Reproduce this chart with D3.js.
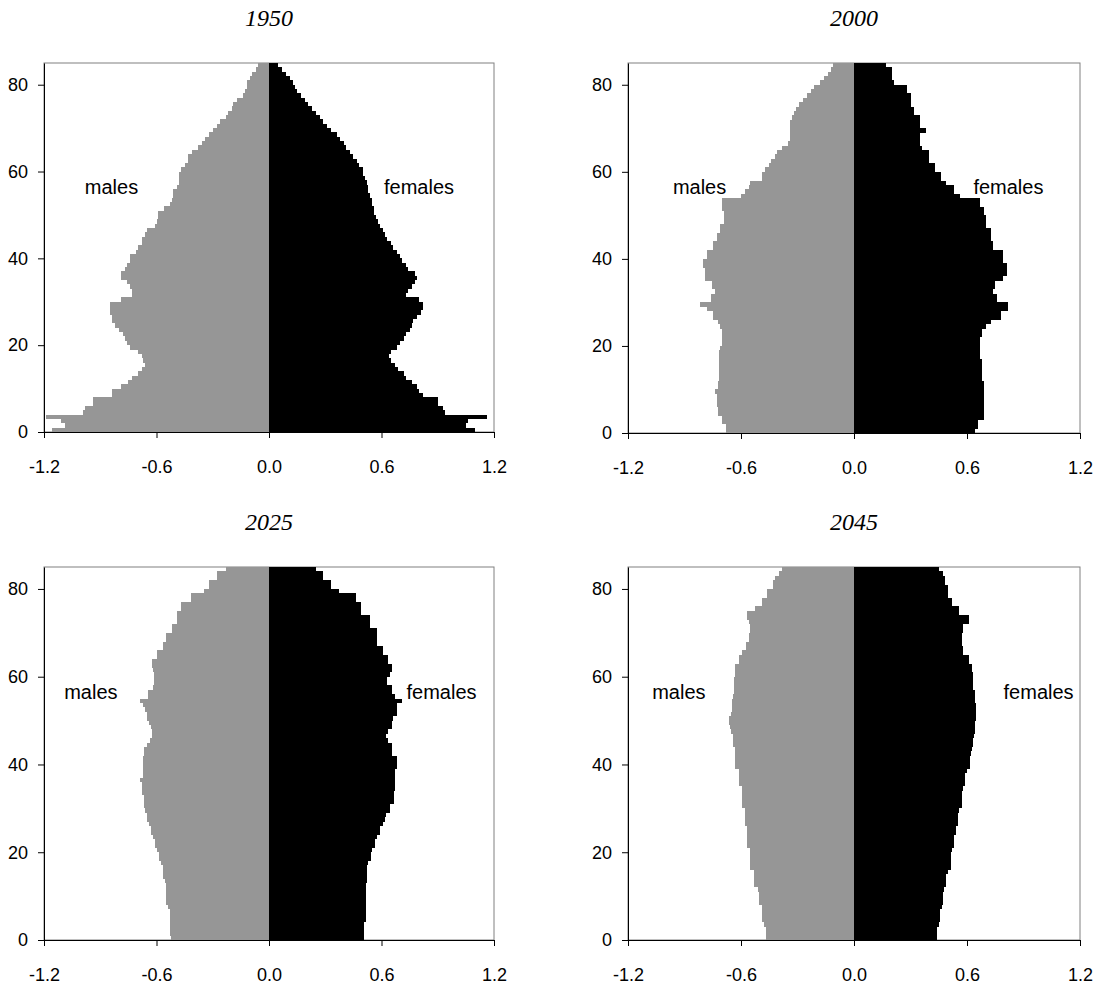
<!DOCTYPE html>
<html>
<head>
<meta charset="utf-8">
<script src="https://cdn.jsdelivr.net/npm/d3@7"></script>
<style>
  body { margin: 0; background: #fff; }
  svg { display: block; }
  .tick text { font-family: "Liberation Sans", Arial, sans-serif; font-size: 18px; fill: #000; }
  .title { font-family: "Liberation Serif", "Times New Roman", serif; font-style: italic; font-size: 24px; }
  .sex { font-family: "Liberation Sans", Arial, sans-serif; font-size: 20px; }
</style>
</head>
<body>
<div id="chart"></div>
<script>
// single-year ages 0..84, shares of total population (%)
var years = ["1950", "2000", "2025", "2045"];
var ageTicks = [0, 20, 40, 60, 80];
var shareTicks = [-1.2, -0.6, 0, 0.6, 1.2];

var males1950 = [1.16,1.09,1.11,1.19,0.99,0.98,0.94,0.94,0.84,0.84,
  0.79,0.75,0.73,0.70,0.68,0.66,0.67,0.68,0.70,0.74,
  0.76,0.77,0.78,0.80,0.82,0.84,0.84,0.85,0.85,0.85,
  0.79,0.73,0.73,0.74,0.76,0.79,0.79,0.77,0.76,0.74,
  0.74,0.71,0.70,0.68,0.68,0.66,0.65,0.61,0.60,0.59,
  0.59,0.56,0.53,0.52,0.51,0.51,0.49,0.48,0.48,0.48,
  0.47,0.45,0.43,0.43,0.41,0.38,0.36,0.34,0.32,0.30,
  0.28,0.26,0.23,0.22,0.20,0.19,0.17,0.14,0.13,0.12,
  0.12,0.10,0.09,0.07,0.06];
var females1950 = [1.10,1.05,1.06,1.16,0.94,0.93,0.90,0.90,0.82,0.80,
  0.79,0.76,0.73,0.72,0.69,0.67,0.65,0.64,0.65,0.68,
  0.70,0.72,0.73,0.75,0.76,0.77,0.79,0.81,0.82,0.82,
  0.80,0.73,0.74,0.76,0.78,0.79,0.78,0.74,0.73,0.71,
  0.70,0.68,0.66,0.65,0.63,0.62,0.61,0.59,0.58,0.57,
  0.56,0.56,0.55,0.55,0.54,0.53,0.53,0.52,0.51,0.50,
  0.50,0.48,0.47,0.45,0.43,0.41,0.40,0.38,0.36,0.33,
  0.31,0.29,0.27,0.25,0.23,0.21,0.19,0.17,0.15,0.14,
  0.13,0.11,0.09,0.07,0.05];

var males2000 = [0.68,0.68,0.70,0.70,0.72,0.72,0.73,0.73,0.73,0.74,
  0.72,0.72,0.715,0.715,0.715,0.715,0.715,0.715,0.715,0.71,
  0.70,0.70,0.70,0.70,0.71,0.72,0.75,0.75,0.78,0.82,
  0.76,0.76,0.74,0.755,0.755,0.79,0.79,0.79,0.80,0.80,
  0.78,0.78,0.75,0.75,0.73,0.73,0.71,0.71,0.69,0.69,
  0.69,0.70,0.70,0.70,0.60,0.58,0.56,0.55,0.49,0.49,
  0.47,0.45,0.44,0.42,0.41,0.38,0.35,0.34,0.34,0.34,
  0.34,0.34,0.33,0.32,0.31,0.29,0.27,0.25,0.23,0.21,
  0.18,0.16,0.14,0.12,0.11];
var females2000 = [0.645,0.66,0.66,0.69,0.69,0.69,0.69,0.69,0.69,0.69,
  0.69,0.69,0.68,0.68,0.68,0.68,0.68,0.67,0.67,0.67,
  0.67,0.67,0.68,0.68,0.70,0.73,0.78,0.78,0.82,0.82,
  0.76,0.76,0.74,0.75,0.75,0.79,0.81,0.81,0.81,0.79,
  0.79,0.79,0.74,0.74,0.73,0.73,0.73,0.70,0.70,0.70,
  0.69,0.69,0.67,0.67,0.565,0.53,0.53,0.49,0.46,0.46,
  0.43,0.43,0.40,0.40,0.40,0.36,0.35,0.35,0.35,0.38,
  0.35,0.35,0.35,0.32,0.32,0.30,0.30,0.30,0.28,0.28,
  0.21,0.20,0.20,0.20,0.17];

var males2025 = [0.525,0.53,0.53,0.53,0.53,0.53,0.53,0.54,0.55,0.55,
  0.55,0.55,0.55,0.555,0.565,0.565,0.565,0.575,0.585,0.585,
  0.60,0.61,0.61,0.62,0.63,0.63,0.64,0.65,0.65,0.66,
  0.665,0.665,0.665,0.675,0.68,0.68,0.69,0.67,0.67,0.67,
  0.67,0.67,0.665,0.665,0.65,0.635,0.625,0.625,0.63,0.64,
  0.65,0.65,0.66,0.67,0.69,0.645,0.645,0.62,0.615,0.615,
  0.615,0.62,0.625,0.625,0.60,0.60,0.565,0.565,0.55,0.55,
  0.52,0.52,0.49,0.49,0.49,0.47,0.47,0.415,0.415,0.345,
  0.32,0.32,0.28,0.28,0.23];
var females2025 = [0.505,0.505,0.505,0.505,0.515,0.515,0.515,0.515,0.515,0.515,
  0.515,0.515,0.515,0.525,0.525,0.525,0.525,0.53,0.545,0.545,
  0.55,0.565,0.565,0.575,0.59,0.59,0.61,0.62,0.625,0.645,
  0.645,0.665,0.665,0.665,0.67,0.67,0.67,0.67,0.67,0.68,
  0.68,0.68,0.655,0.655,0.655,0.635,0.625,0.635,0.655,0.655,
  0.66,0.68,0.68,0.68,0.71,0.67,0.655,0.655,0.63,0.63,
  0.645,0.655,0.655,0.635,0.635,0.61,0.61,0.575,0.575,0.575,
  0.575,0.54,0.54,0.54,0.49,0.49,0.49,0.465,0.465,0.375,
  0.33,0.33,0.29,0.29,0.25];

var males2045 = [0.465,0.465,0.465,0.48,0.49,0.49,0.49,0.49,0.505,0.505,
  0.505,0.51,0.53,0.53,0.53,0.53,0.55,0.55,0.55,0.55,
  0.55,0.57,0.57,0.57,0.57,0.57,0.58,0.58,0.58,0.58,
  0.595,0.595,0.595,0.595,0.595,0.61,0.61,0.61,0.61,0.63,
  0.63,0.63,0.63,0.63,0.645,0.645,0.645,0.655,0.66,0.665,
  0.665,0.655,0.65,0.65,0.65,0.64,0.635,0.635,0.635,0.635,
  0.63,0.63,0.63,0.61,0.61,0.595,0.575,0.575,0.56,0.56,
  0.55,0.55,0.555,0.57,0.57,0.525,0.49,0.49,0.46,0.46,
  0.43,0.43,0.42,0.40,0.38];
var females2045 = [0.44,0.44,0.44,0.45,0.455,0.455,0.455,0.465,0.475,0.475,
  0.475,0.48,0.49,0.49,0.49,0.50,0.515,0.515,0.515,0.515,
  0.52,0.53,0.53,0.53,0.54,0.54,0.55,0.55,0.55,0.56,
  0.575,0.575,0.575,0.575,0.58,0.59,0.59,0.59,0.60,0.615,
  0.615,0.615,0.62,0.625,0.63,0.63,0.635,0.645,0.645,0.645,
  0.65,0.65,0.65,0.65,0.64,0.64,0.64,0.63,0.63,0.63,
  0.63,0.625,0.625,0.61,0.61,0.58,0.58,0.575,0.575,0.575,
  0.58,0.58,0.61,0.61,0.555,0.555,0.52,0.52,0.50,0.50,
  0.50,0.485,0.485,0.47,0.45];

var malesByYear = [males1950, males2000, males2025, males2045];
var femalesByYear = [females1950, females2000, females2025, females2045];
// where the "males" / "females" words sit, in chart units [share, age]
var malesLabelAt = [[-0.84, 56.5], [-0.82, 56.5], [-0.95, 56.5], [-0.93, 56.5]];
var femalesLabelAt = [[0.80, 56.5], [0.82, 56.5], [0.92, 56.5], [0.98, 56.5]];

var W = 1099, H = 990;
var svg = d3.select("#chart").append("svg").attr("width", W).attr("height", H);

// plot boxes: [left, right, top, bottom]
var boxes = [[44, 494, 63, 432], [628, 1080, 63, 433], [44, 494, 567, 940], [628, 1080, 567, 940]];

years.forEach(function(yr, i) {
  var b = boxes[i];
  var x = d3.scaleLinear().domain([-1.2, 1.2]).range([b[0], b[1]]);
  var y = d3.scaleLinear().domain([0, 85]).range([b[3], b[2]]);
  var g = svg.append("g").attr("class", "panel");

  g.append("rect")
    .attr("x", b[0]).attr("y", b[2])
    .attr("width", b[1] - b[0]).attr("height", b[3] - b[2])
    .attr("fill", "#fff").attr("stroke", "#808080").attr("stroke-width", 1);

  var ages = d3.range(malesByYear[i].length);

  g.selectAll(".male").data(ages).enter().append("rect")
    .attr("class", "male")
    .attr("x", function(a) { return x(-Math.min(malesByYear[i][a], 1.2)); })
    .attr("y", function(a) { return y(a + 1); })
    .attr("width", function(a) { return x(0) - x(-Math.min(malesByYear[i][a], 1.2)); })
    .attr("height", function(a) { return y(a) - y(a + 1); })
    .attr("fill", "#969696")
    .attr("shape-rendering", "crispEdges");

  g.selectAll(".female").data(ages).enter().append("rect")
    .attr("class", "female")
    .attr("x", x(0))
    .attr("y", function(a) { return y(a + 1); })
    .attr("width", function(a) { return x(Math.min(femalesByYear[i][a], 1.2)) - x(0); })
    .attr("height", function(a) { return y(a) - y(a + 1); })
    .attr("fill", "#000")
    .attr("shape-rendering", "crispEdges");

  var yAxis = g.append("g")
    .attr("transform", "translate(" + b[0] + ",0)")
    .call(d3.axisLeft(y).tickValues(ageTicks).tickSize(6).tickPadding(10).tickSizeOuter(0));
  var xAxis = g.append("g")
    .attr("transform", "translate(0," + b[3] + ")")
    .call(d3.axisBottom(x).tickValues(shareTicks)
      .tickFormat(function(d) { return d.toFixed(1); })
      .tickSize(6).tickPadding(22).tickSizeOuter(0));
  [yAxis, xAxis].forEach(function(ax) {
    ax.select(".domain").attr("stroke", "#000");
    ax.selectAll(".tick line").attr("stroke", "#000");
  });

  g.append("text").attr("class", "title")
    .attr("x", (b[0] + b[1]) / 2).attr("y", b[2] - 37)
    .attr("text-anchor", "middle")
    .text(yr);

  g.append("text").attr("class", "sex")
    .attr("x", x(malesLabelAt[i][0])).attr("y", y(malesLabelAt[i][1]))
    .attr("dy", "0.35em").attr("text-anchor", "middle")
    .text("males");
  g.append("text").attr("class", "sex")
    .attr("x", x(femalesLabelAt[i][0])).attr("y", y(femalesLabelAt[i][1]))
    .attr("dy", "0.35em").attr("text-anchor", "middle")
    .text("females");
});
</script>
</body>
</html>
